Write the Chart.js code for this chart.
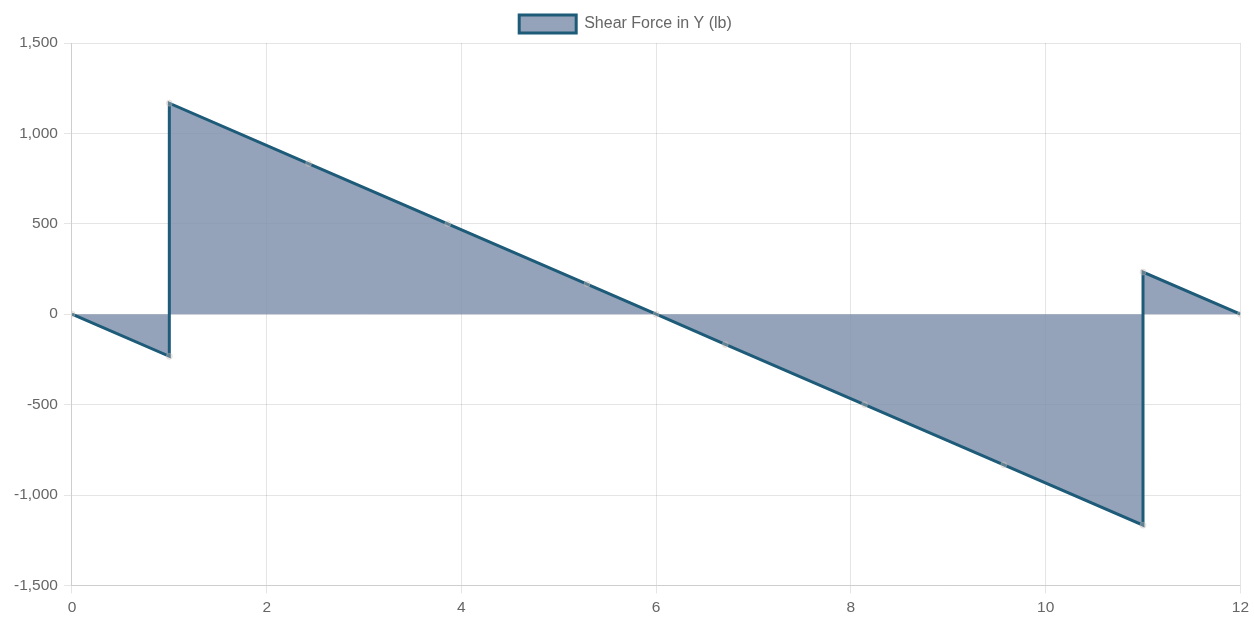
<!DOCTYPE html>
<html>
<head>
<meta charset="utf-8">
<script src="https://cdn.jsdelivr.net/npm/chart.js@4/dist/chart.umd.min.js"></script>
<style>
  html, body { margin: 0; padding: 0; background: #fff; }
  #wrap { width: 1254px; height: 622px; }
</style>
</head>
<body>
<div id="wrap"><canvas id="shearChart" width="1254" height="622"></canvas></div>
<script>
// Shear force diagram, positions in ft and force in lb
const positions = [0, 1, 1, 2.43, 3.86, 5.29, 6, 6.71, 8.14, 9.57, 11, 11, 12];
const shearValues = [0, -233, 1167, 833, 500, 167, 0, -167, -500, -833, -1167, 233, 0];
const seriesLabel = 'Shear Force in Y (lb)';
const xTickStep = 2;
const yTickStep = 500;

const points = positions.map((x, i) => ({ x: x, y: shearValues[i] }));

const tickFont = { family: 'Liberation Sans', size: 15.5 };

const ctx = document.getElementById('shearChart').getContext('2d');
new Chart(ctx, {
  type: 'line',
  data: {
    datasets: [{
      label: seriesLabel,
      data: points,
      borderColor: '#1d5b79',
      borderWidth: 3,
      backgroundColor: 'rgba(124, 143, 169, 0.82)',
      fill: 'origin',
      tension: 0,
      pointRadius: 3,
      pointBackgroundColor: 'rgba(215, 200, 195, 0.35)',
      pointBorderColor: 'rgba(200, 185, 180, 0.35)',
      pointBorderWidth: 1
    }]
  },
  options: {
    responsive: false,
    animation: false,
    layout: { padding: { left: 8, right: 11, top: 3, bottom: 0 } },
    plugins: {
      legend: {
        labels: {
          color: '#666',
          font: { family: 'Liberation Sans', size: 16 },
          boxWidth: 57,
          boxHeight: 18,
          padding: 12
        }
      },
      tooltip: { enabled: false }
    },
    scales: {
      x: {
        type: 'linear',
        min: 0,
        max: 12,
        ticks: {
          stepSize: xTickStep,
          color: '#666',
          font: tickFont,
          padding: 5
        },
        grid: { color: 'rgba(0, 0, 0, 0.1)' }
      },
      y: {
        min: -1500,
        max: 1500,
        ticks: {
          stepSize: yTickStep,
          color: '#666',
          font: tickFont,
          padding: 6,
          callback: v => v.toLocaleString('en-US')
        },
        grid: { color: 'rgba(0, 0, 0, 0.1)' }
      }
    }
  }
});
</script>
</body>
</html>
